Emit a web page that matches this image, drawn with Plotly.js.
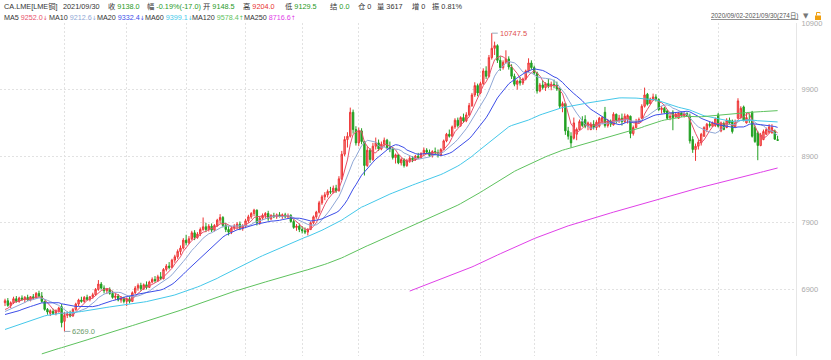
<!DOCTYPE html>
<html><head><meta charset="utf-8">
<script src="https://cdn.plot.ly/plotly-3.0.1.min.js"></script>
<style>html,body{margin:0;padding:0;background:#fff}#c{width:831px;height:360px}</style>
</head><body><div id="c"></div>
<script>
// closes before the visible window (Apr-Sep 1 2020), used only for moving averages
const priorClose = [
4800,4870,4900,4990,5080,5060,5030,5070,5100,5130,5110,5060,5090,5050,5010,5060,5120,5150,5170,5180,5140,
5140,5180,5220,5240,5230,5280,5200,5220,5290,5330,5380,5360,5400,5380,5330,5310,5360,5390,5370,
5450,5500,5570,5560,5700,5780,5770,5800,5760,5720,5780,5800,5850,5880,5860,5870,5950,6000,5950,5960,5990,6050,
6100,6050,6080,6200,6300,6450,6420,6420,6380,6370,6380,6400,6440,6410,6440,6470,6500,6480,6430,6410,6430,6420,6450,
6370,6410,6450,6540,6560,6450,6450,6400,6430,6470,6520,6510,6480,6490,6550,6620,6550,6570,6530,6510,
6650];

const openP = [
6700,6730,6660,6700,6760,6720,6770,6750,6780,6740,6790,6770,6840,6800,6720,6600,6540,6570,6540,6580,6640,
6420,6510,6530,6500,6600,6680,6740,6720,6780,6750,6790,6820,6900,6980,6920,6880,6900,6840,6780,6800,6740,6770,
6720,6760,6720,6850,6920,6960,6910,6970,6930,7010,7050,7030,7090,7060,7200,7250,7230,7340,7390,7470,7520,
7640,7600,7660,7750,7680,7730,7800,7840,7800,7850,7790,7860,7940,7980,7860,7800,7760,7820,7850,7880,7820,
7850,7930,7990,8040,8090,7900,7970,8010,8040,7960,8010,7990,8020,8000,8020,7990,8010,7920,7830,7850,
7800,7780,7760,7800,7900,7990,8060,8200,8290,8320,8370,8360,8420,8380,8560,8930,9150,9200,9560,9300,
9100,9280,9120,8760,8990,8850,9050,9100,9010,9080,9140,9030,9010,8880,8920,8800,8850,8760,8830,8870,8850,8900,8880,
8940,8990,8960,8910,8970,8950,8920,9000,9130,9230,9200,9340,9440,9360,9480,9430,9520,9660,9820,9960,
9850,9990,10180,10100,10380,10520,10560,10340,10230,10310,10360,10240,10100,9980,10030,10000,10060,10180,10300,
10230,10150,9880,9970,9930,9990,9950,9980,9960,9910,9650,9690,9280,9200,9170,9230,9300,9420,9450,9350,9300,9380,
9330,9350,9420,9560,9360,9420,9370,9530,9440,9470,9420,9450,9500,9240,9330,9420,9470,9650,9830,9690,9760,9790,
9750,9600,9620,9580,9480,9560,9490,9470,9550,9510,9540,9500,9150,9000,9050,9100,9200,9300,9380,9350,9360,
9520,9280,9390,9330,9440,9430,9340,9470,9480,9640,9400,9450,9560,9330,9250,9060,9150,9230,9260,9250,9280,9148.5];

const highP = [
6760,6770,6720,6790,6800,6790,6810,6800,6820,6800,6830,6860,6880,6860,6730,6620,6600,6610,6600,6640,6680,
6560,6570,6580,6620,6700,6760,6790,6800,6820,6800,6850,6920,7040,7010,6960,6920,6930,6880,6840,6830,6800,6790,
6780,6800,6870,6950,6990,7000,6990,7020,7030,7080,7100,7120,7160,7220,7280,7310,7360,7420,7500,7560,7670,
7720,7700,7780,7790,7760,7830,7980,7900,7880,7890,7880,7960,8030,8000,7900,7850,7850,7880,7910,7920,7880,
7960,8020,8060,8110,8100,7990,8040,8060,8080,8030,8050,8040,8060,8040,8050,8040,8030,7950,7880,7890,
7850,7830,7820,7920,8010,8080,8230,8320,8360,8400,8440,8460,8470,8600,8980,9200,9260,9630,9600,9350,
9330,9320,9130,9050,9020,9100,9180,9150,9120,9180,9160,9120,9040,8940,8930,8880,8870,8860,8900,8900,8920,8950,8960,
9030,9020,9000,8990,9030,9000,9020,9150,9250,9300,9360,9470,9480,9500,9540,9560,9700,9850,10010,9990,
10020,10220,10250,10420,10747.5,10620,10580,10400,10340,10490,10400,10280,10140,10050,10090,10080,10200,10370,10340,
10260,10170,10000,10040,10010,10060,10020,10050,10020,9930,9720,9700,9340,9260,9480,9330,9450,9500,9515,9420,9410,9440,
9440,9490,9500,9640,9460,9450,9560,9540,9520,9540,9540,9530,9510,9360,9460,9480,9680,9930,9850,9780,9840,9830,
9770,9650,9640,9600,9540,9590,9560,9560,9570,9560,9560,9540,9200,9090,9150,9250,9350,9400,9420,9420,9480,
9550,9420,9420,9470,9480,9450,9450,9770,9650,9660,9550,9540,9580,9360,9280,9250,9300,9330,9380,9380,9300,9204];

const lowP = [
6650,6640,6620,6680,6700,6700,6730,6700,6730,6720,6750,6760,6780,6700,6580,6520,6500,6520,6510,6550,6330,
6269,6470,6480,6490,6580,6650,6700,6700,6730,6720,6760,6800,6880,6900,6840,6830,6820,6760,6740,6720,6700,6690,
6650,6690,6710,6830,6880,6880,6890,6900,6920,6990,7000,7010,7040,7050,7170,7200,7220,7300,7360,7420,7500,
7560,7580,7640,7640,7660,7700,7780,7760,7770,7760,7770,7840,7890,7830,7760,7710,7730,7790,7800,7790,7780,
7830,7900,7960,8000,7860,7870,7940,7960,7930,7940,7970,7960,7980,7960,7970,7960,7900,7810,7780,7760,
7740,7730,7710,7790,7880,7960,8040,8170,8240,8280,8330,8340,8350,8370,8540,8900,9030,9180,9240,9060,
9050,9080,8610,8740,8800,8830,9000,8980,8990,9040,9000,8960,8850,8790,8780,8760,8730,8740,8800,8810,8830,8860,8860,
8910,8930,8890,8880,8920,8880,8900,8990,9110,9180,9190,9310,9330,9340,9400,9410,9500,9640,9790,9800,
9830,9970,10060,10080,10350,10420,10300,10180,10200,10290,10200,10060,9950,9900,9960,9970,10040,10160,10200,
10120,9840,9860,9900,9880,9920,9890,9920,9880,9620,9560,9220,9150,9030,9150,9140,9290,9340,9320,9290,9290,9300,
9290,9330,9380,9330,9330,9340,9360,9390,9400,9360,9400,9390,9170,9210,9320,9390,9460,9630,9660,9680,9730,9720,
9580,9540,9540,9450,9440,9290,9480,9460,9490,9480,9490,9090,8950,8830,9000,9060,9190,9260,9330,9340,9340,
9330,9260,9290,9320,9380,9240,9330,9460,9460,9430,9390,9400,9180,9100,8840,9050,9140,9220,9240,9240,9150,9129.5];

const closeP = [
6730,6660,6700,6760,6720,6770,6750,6780,6740,6790,6770,6840,6800,6720,6600,6560,6580,6540,6580,6620,6400,
6510,6530,6500,6600,6680,6740,6720,6780,6750,6790,6820,6900,6980,6920,6880,6900,6840,6780,6800,6740,6770,6720,
6760,6720,6850,6920,6960,6910,6970,6930,7010,7050,7030,7090,7060,7200,7250,7230,7340,7390,7470,7520,7640,
7600,7660,7750,7680,7730,7800,7840,7800,7850,7790,7860,7940,7980,7860,7800,7760,7820,7850,7880,7820,7850,
7930,7990,8040,8090,7900,7970,8010,8040,7960,8010,7990,8020,8000,8020,7990,8010,7920,7830,7850,7800,
7780,7760,7800,7900,7990,8060,8200,8290,8320,8370,8360,8420,8380,8560,8930,9150,9200,9560,9300,9100,
9280,9120,8760,8990,8850,9050,9100,9010,9080,9140,9030,9010,8880,8920,8800,8850,8760,8830,8870,8850,8900,8880,8940,
8990,8960,8910,8970,8950,8920,9000,9130,9230,9200,9340,9440,9360,9480,9430,9520,9660,9820,9960,9850,
9990,10180,10100,10380,10520,10560,10340,10230,10310,10360,10240,10100,9980,10030,10000,10060,10180,10300,10230,
10150,9880,9970,9930,9990,9950,9980,9960,9910,9650,9690,9280,9200,9100,9400,9300,9420,9360,9350,9400,9380,9330,
9410,9470,9480,9360,9420,9380,9530,9440,9470,9420,9500,9510,9240,9330,9420,9450,9650,9820,9680,9760,9790,9750,
9600,9620,9560,9470,9500,9480,9530,9550,9510,9540,9500,9130,9000,9050,9110,9230,9330,9380,9360,9400,9460,
9350,9400,9300,9440,9400,9270,9400,9730,9620,9430,9480,9450,9200,9120,9060,9220,9270,9300,9340,9330,9155,9138];

const monthTicks = [21, 43, 64, 85, 105, 125, 148, 168, 187, 209, 231, 252];
const yTicks = [5900, 6900, 7900, 8900, 9900, 10900];
const maPeriods = [5, 10, 20, 60, 120, 250];
const maColors = ['#e8506a', '#8fa7d6', '#3c4de8', '#44c8ea', '#5ec25e', '#e040e8'];
const maNames = ['MA5', 'MA10', 'MA20', 'MA60', 'MA120', 'MA250'];
const maValues = ['9252.0', '9212.6', '9332.4', '9399.1', '9578.4', '8716.6'];
const maArrows = ['↓', '↓', '↓', '↓', '↑', '↑'];

const n = closeP.length;
const idx = closeP.map((_, i) => i);
const allClose = priorClose.concat(closeP);
const P = priorClose.length;
function ma(period) {
  return closeP.map((_, i) => {
    const end = P + i;
    if (end - period + 1 < 0) return null;
    let s = 0;
    for (let k = end - period + 1; k <= end; k++) s += allClose[k];
    return s / period;
  });
}

const traces = [{
  type: 'candlestick', x: idx, open: openP, high: highP, low: lowP, close: closeP,
  increasing: {line: {color: '#ee3535', width: 1}, fillcolor: '#f58f8f'},
  decreasing: {line: {color: '#22a022', width: 1}, fillcolor: '#22a022'},
  whiskerwidth: 0, hoverinfo: 'skip'
}];
maPeriods.forEach((p, j) => traces.push({
  type: 'scatter', mode: 'lines', x: idx, y: ma(p),
  line: {color: maColors[j], width: 1}, hoverinfo: 'skip', connectgaps: false
}));

const W = 796, TOP = 23, BOT = 356;
const px = v => v / W;
const py = v => (BOT - v) / (BOT - TOP);
const FONT = '"Liberation Sans", "Noto Sans CJK SC", sans-serif';
const ARW = '"DejaVu Sans", sans-serif';
const G = '#1f9a1f', R = '#e83030', D = '#333';
const col = (t, c) => '<span style="color:' + c + '">' + t + '</span>';

const header = [
  ['CA.LME[LME铜]', 2],
  ['2021/09/30', 61],
  ['收 ' + col('9138.0', G), 106],
  ['幅 ' + col('-0.19%(-17.0)', G), 145],
  ['开 ' + col('9148.5', G), 201],
  ['高 ' + col('9204.0', R), 241],
  ['低 ' + col('9129.5', G), 283],
  ['结 ' + col('0.0', G), 328],
  ['仓 0', 356],
  ['量 3617', 375],
  ['增 0', 410],
  ['振 0.81%', 430]
];
const maX = [2, 47, 95, 143, 190, 242];

const ann = [];
header.forEach(h => ann.push({xref: 'paper', yref: 'paper', x: px(h[1]), y: py(6.5), xanchor: 'left', yanchor: 'middle',
  text: h[0], showarrow: false, font: {size: 7.3, color: D, family: FONT}}));
maNames.forEach((m, j) => ann.push({xref: 'paper', yref: 'paper', x: px(maX[j]), y: py(17.5), xanchor: 'left', yanchor: 'middle',
  text: m + ' ' + col(maValues[j] + '<span style="font-family:' + ARW.replace(/"/g, "'") + ';font-size:6px">' + maArrows[j] + '</span>', maColors[j]),
  showarrow: false, font: {size: 7.2, color: D, family: FONT}}));
ann.push({xref: 'paper', yref: 'paper', x: px(800), y: py(16), xanchor: 'right', yanchor: 'middle',
  text: '<u>2020/09/02-2021/09/30(274日)</u>', showarrow: false, font: {size: 6.4, color: '#555', family: FONT}});
ann.push({xref: 'paper', yref: 'paper', x: px(806), y: py(15.5), xanchor: 'center', yanchor: 'middle',
  text: '▼', showarrow: false, font: {size: 7, color: '#777', family: ARW}});

// extreme labels from the data
let iMax = 0, iMin = 0;
for (let i = 0; i < n; i++) { if (highP[i] > highP[iMax]) iMax = i; if (lowP[i] < lowP[iMin]) iMin = i; }
ann.push({x: iMax, y: highP[iMax], xref: 'x', yref: 'y', text: highP[iMax].toFixed(1), showarrow: true,
  arrowhead: 0, arrowwidth: 1, arrowcolor: '#9ab', ax: 6, ay: 0, xanchor: 'left', standoff: 0,
  font: {size: 7.5, color: '#e05050', family: FONT}});
ann.push({x: iMin, y: lowP[iMin], xref: 'x', yref: 'y', text: lowP[iMin].toFixed(1), showarrow: true,
  arrowhead: 0, arrowwidth: 1, arrowcolor: '#9ab', ax: 6, ay: 0, xanchor: 'left', standoff: 0,
  font: {size: 7.5, color: '#6a9a6a', family: FONT}});

const layout = {
  width: 831, height: 360,
  margin: {l: 0, r: 35, t: TOP, b: 360 - BOT, pad: 0},
  paper_bgcolor: '#fff', plot_bgcolor: '#fff',
  showlegend: false,
  font: {family: FONT, size: 8, color: '#999'},
  xaxis: {range: [-1.77, 279.5], tickvals: monthTicks, showticklabels: false, ticks: '',
    showgrid: true, gridcolor: '#e2e2e2', griddash: '2px,2px', zeroline: false, showline: false,
    rangeslider: {visible: false}, fixedrange: true},
  yaxis: {side: 'right', range: [5900, 10900], tickvals: yTicks, ticktext: yTicks.map(String), ticks: '',
    showgrid: true, gridcolor: '#e2e2e2', griddash: '2px,2px', zeroline: false,
    showline: true, linecolor: '#e6e6e6', linewidth: 1, tickfont: {size: 7.5, color: '#aaa', family: FONT},
    ticklabelstandoff: 3, fixedrange: true},
  annotations: ann,
  shapes: [
    {type: 'rect', xref: 'paper', yref: 'paper', x0: px(815), x1: px(821), y0: py(20), y1: py(15.5), fillcolor: '#f0a010', line: {width: 0}},
    {type: 'path', xref: 'paper', yref: 'paper',
      path: 'M ' + px(816.5) + ' ' + py(15.5) + ' L ' + px(816.5) + ' ' + py(12.5) + ' L ' + px(820) + ' ' + py(12.5) + ' L ' + px(820) + ' ' + py(13.5),
      line: {color: '#f0a010', width: 1}}
  ]
};
Plotly.newPlot('c', traces, layout, {staticPlot: true, displayModeBar: false});
</script></body></html>
